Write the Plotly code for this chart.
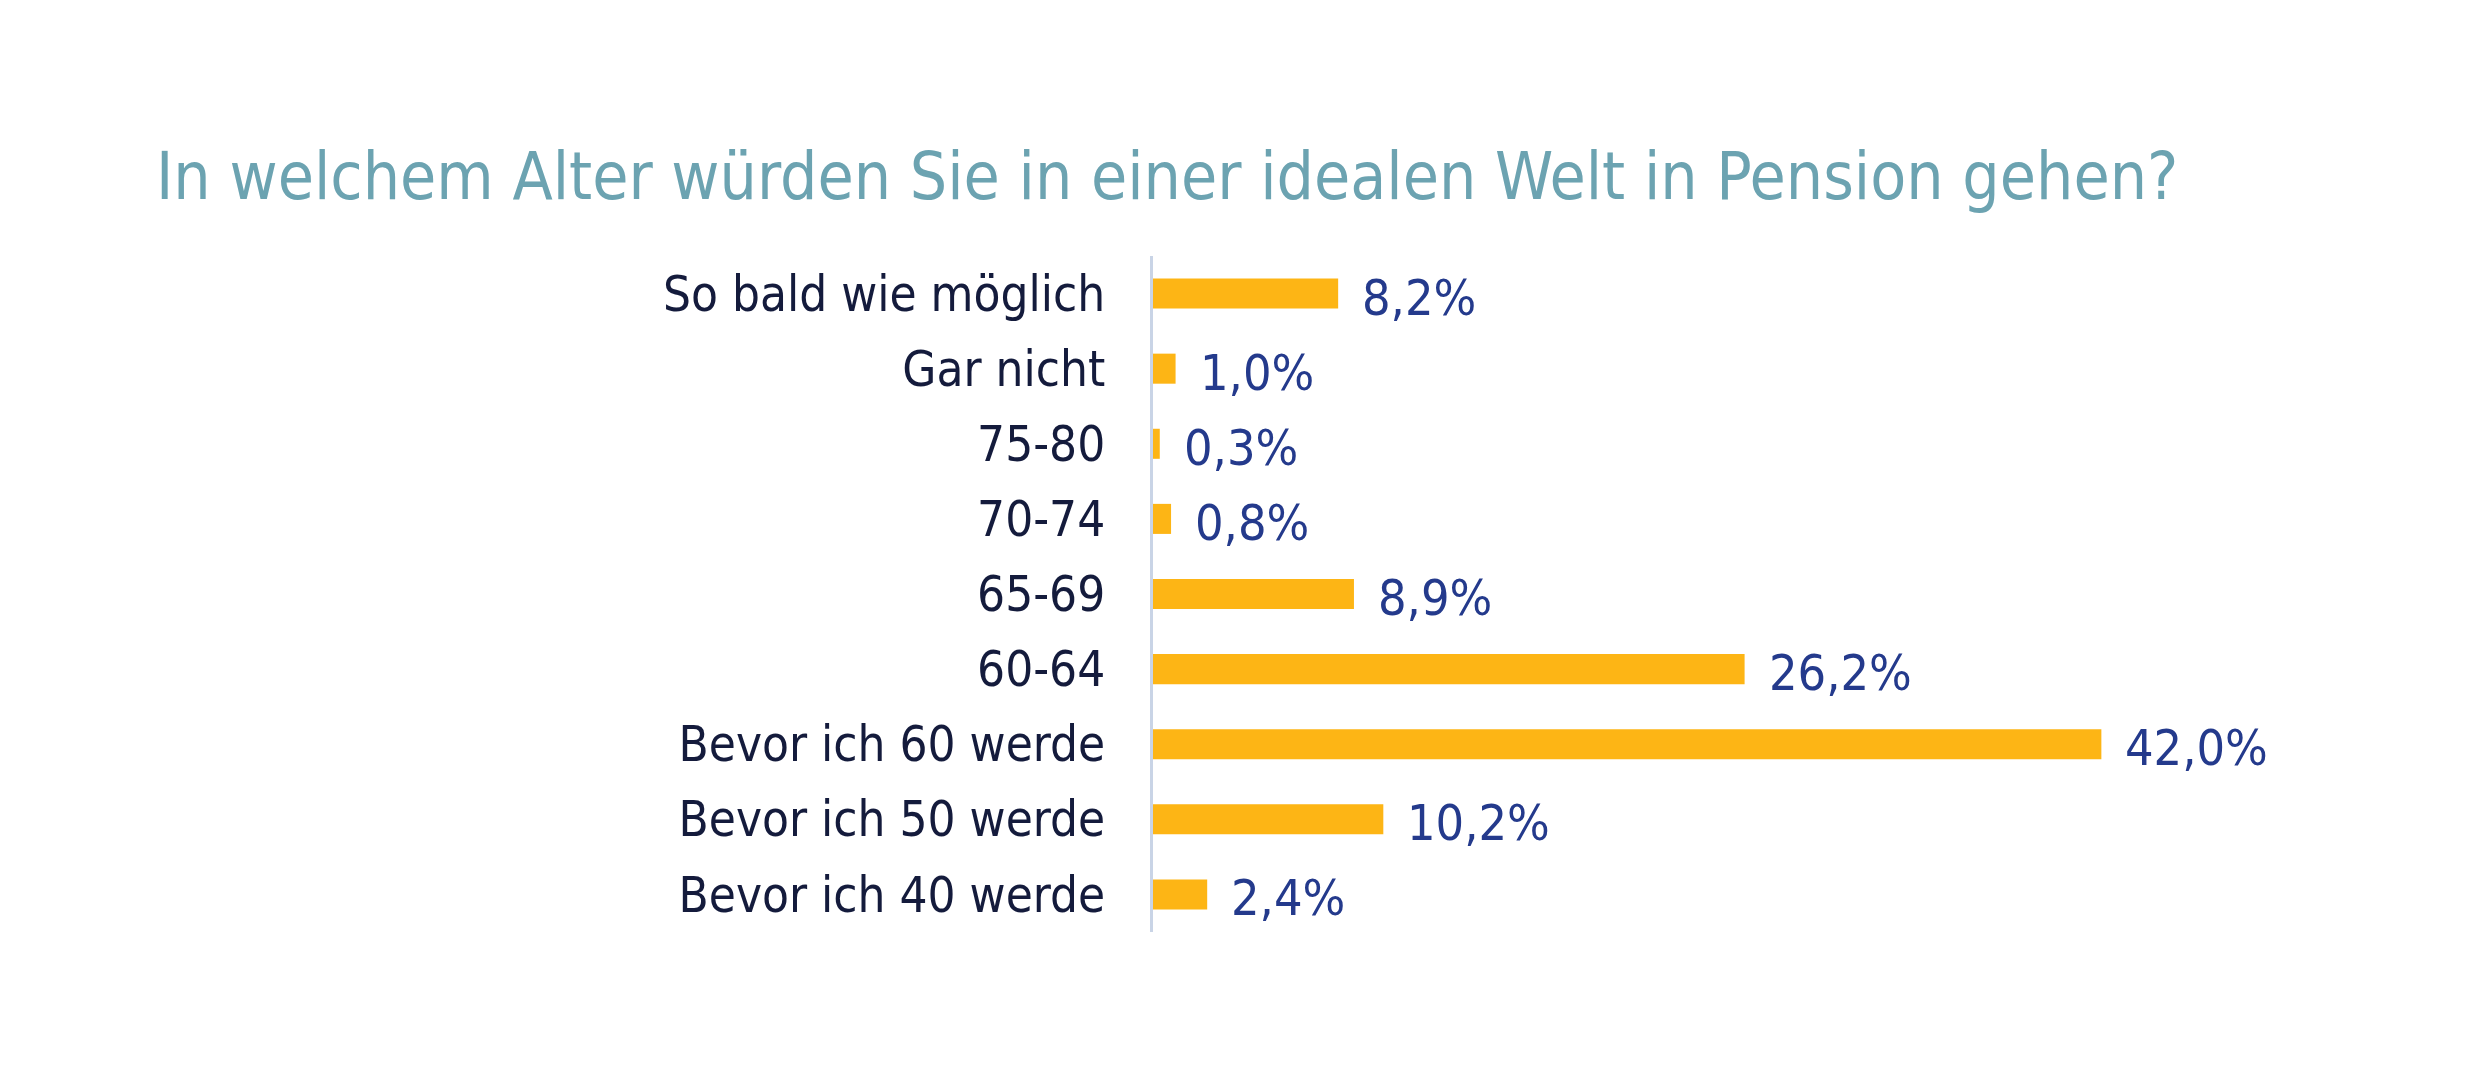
import plotly.graph_objects as go

categories = ["So bald wie möglich", "Gar nicht", "75-80", "70-74", "65-69",
              "60-64", "Bevor ich 60 werde", "Bevor ich 50 werde", "Bevor ich 40 werde"]
values = [8.2, 1.0, 0.3, 0.8, 8.9, 26.2, 42.0, 10.2, 2.4]
value_labels = ["8,2%", "1,0%", "0,3%", "0,8%", "8,9%", "26,2%", "42,0%", "10,2%", "2,4%"]
title_text = "In welchem Alter würden Sie in einer idealen Welt in Pension gehen?"

FONT = "DejaVu Sans Condensed, DejaVu Sans, sans-serif"
W, H = 2480, 1065

fig = go.Figure()
fig.add_trace(go.Bar(
    y=categories, x=values, orientation="h",
    marker=dict(color="#FDB515", line=dict(width=0)),
    width=0.4, hoverinfo="skip",
))

for c, v, t in zip(categories, values, value_labels):
    fig.add_annotation(x=v, y=c, text=t, showarrow=False, xanchor="left",
                       yanchor="middle", xshift=22, yshift=-4,
                       font=dict(family=FONT, size=50, color="#243A8C"))

fig.update_layout(
    width=W, height=H,
    paper_bgcolor="white", plot_bgcolor="white",
    margin=dict(l=1145, r=206, t=248, b=141),
    showlegend=False,
    title=dict(text=title_text, x=148 / W, xanchor="left", xref="container",
               y=1 - 168 / H, yanchor="middle", yref="container",
               font=dict(family=FONT, size=65.5, color="#6CA3B1")),
    xaxis=dict(range=[0, 50], visible=False, fixedrange=True),
    yaxis=dict(autorange=False, range=[8.5, -0.5], categoryorder="array",
               categoryarray=categories, showgrid=False, zeroline=False,
               showline=True, linecolor="#C9D4E6", linewidth=3,
               ticks="", ticklabelstandoff=35,
               tickfont=dict(family=FONT, size=49, color="#141B3C")),
)

fig.write_html("out.html")
